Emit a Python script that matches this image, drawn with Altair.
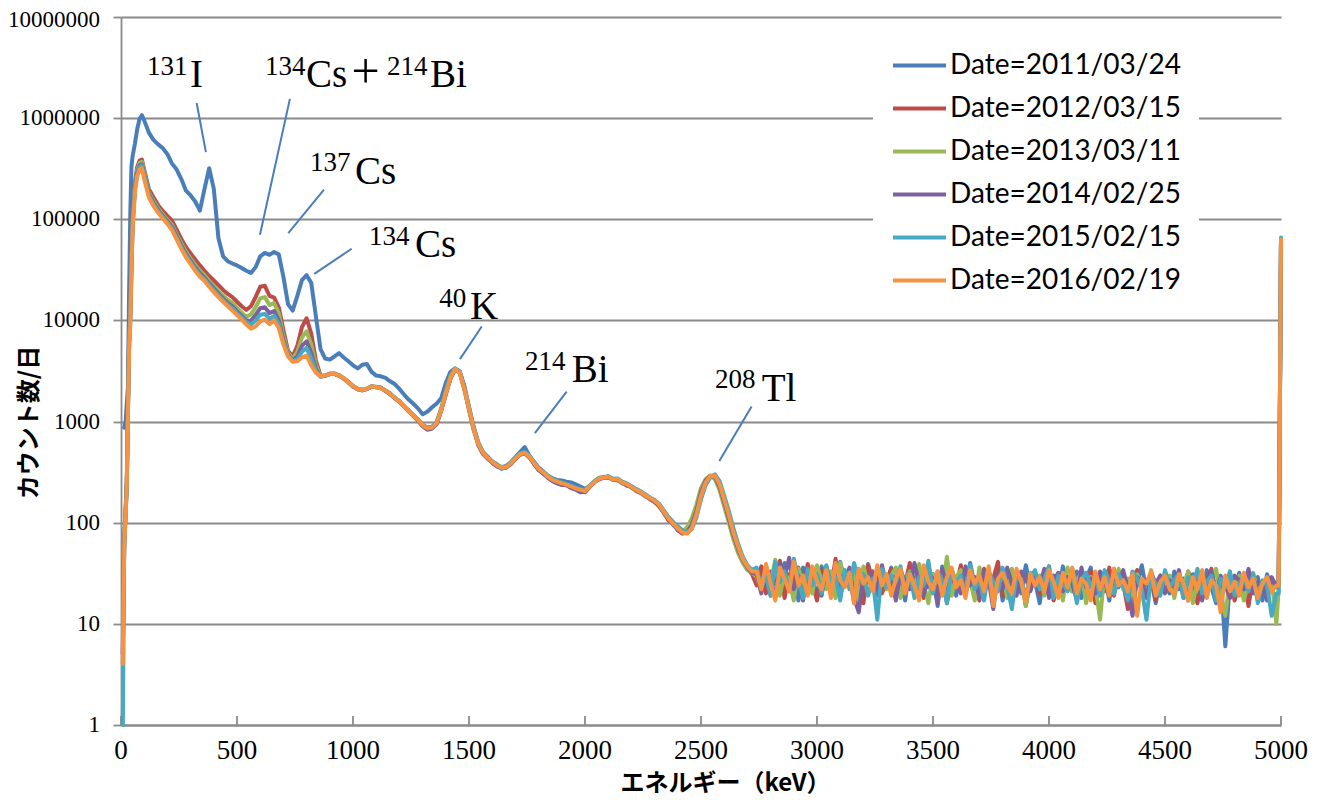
import altair as alt
import pandas as pd

SERIES = ["Date=2011/03/24", "Date=2012/03/15", "Date=2013/03/11",
          "Date=2014/02/25", "Date=2015/02/15", "Date=2016/02/19"]
COLORS = ["#4A7EBB", "#BE4B48", "#98B954", "#7D60A0", "#46AAC5", "#F69240"]

# energy grid (keV)
E_LOW = [8, 10, 14, 20, 25, 30, 35, 40, 45, 50, 60, 70, 80, 90, 100]
E_MID = list(range(120, 2721, 20))
E_NOISE = list(range(2740, 4981, 20))
E_END = [4990, 5000]

# ---- counts per day, 2011/03/24 ----
LOW_2011 = [None, None, 870, 1000, 1500, 2200, 20000, 110000, 330000, 420000, 560000, 780000, 980000, 1070000, 950000]
MID_2011 = [720000, 610000, 550000, 505000, 440000, 355000, 310000, 250000, 192000, 172000,
            150000, 122000, 200000, 320000, 200000, 65000, 43000, 38500, 36500, 35000,
            33000, 31000, 29500, 33500, 43000, 46500, 44500, 47500, 45000, 27000,
            14500, 12500, 17500, 25000, 28000, 23500, 11000, 5200, 4200, 4100,
            4400, 4750, 4300, 3950, 3600, 3350, 3650, 3700, 3100, 2850,
            2800, 2700, 2500, 2350, 2100, 1850, 1650, 1500, 1350, 1180,
            1250, 1380, 1500, 1700, 2400, 3100, 3350, 3150, 2250, 1400,
            880, 620, 500, 450, 405, 375, 355, 365, 395, 445,
            500, 560, 460, 400, 350, 322, 292, 275, 265, 262,
            255, 250, 240, 228, 215, 232, 255, 276, 280, 286,
            270, 270, 252, 242, 228, 214, 202, 188, 176, 166,
            150, 128, 110, 98, 88, 80, 80, 90, 122, 188,
            252, 292, 290, 238, 170, 118, 80, 58, 44, 37,
            33]
NOISE_2011 = [34, 22, 38, 19, 31, 26, 40, 21, 33, 17, 36, 24, 29, 18, 37, 23, 32, 20, 41, 25, 30, 16, 35, 22, 39, 27, 19, 33, 24, 36,
              21, 30, 17, 38, 26, 20, 34, 23, 31, 15, 37, 25, 28, 19, 35, 22, 40, 24, 18, 32, 27, 21, 36, 17, 29, 25, 33, 20, 38, 23,
              26, 16, 34, 22, 30, 19, 37, 24, 21, 33, 18, 28, 36, 20, 26, 31, 17, 35, 23, 29, 19, 32, 25, 38, 21, 27, 16, 30, 24, 20,
              33, 22, 28, 17, 31, 25, 19, 34, 23, 16, 30, 6, 27, 21, 32, 18, 26, 24, 29, 17, 31, 22, 25]
END_2011 = [25, 62000]

# ---- 2012/03/15 ----
LOW_2012 = [5, 18, 70, 140, 260, 1500, 7000, 13000, 42000, 105000, 235000, 330000, 380000, 390000, 310000]
MID_2012 = [200000, 165000, 138000, 121000, 108000, 97000, 79000, 64000, 53000, 46000,
            40000, 35000, 31000, 27500, 24800, 22300, 20000, 18300, 17000, 15300,
            13800, 12700, 13800, 17000, 21500, 22000, 17500, 16800, 13500, 8000,
            5000, 4400, 5600, 8600, 10500, 7400, 4000, 2850, 2830, 2980,
            2950, 2880, 2650, 2470, 2250, 2080, 2070, 2100, 2240, 2180,
            2170, 2000, 1900, 1700, 1600, 1400, 1290, 1140, 1050, 910,
            850, 880, 940, 1280, 1850, 2650, 3300, 3100, 2150, 1320,
            870, 590, 480, 450, 390, 365, 345, 360, 380, 425,
            480, 480, 455, 380, 345, 305, 290, 260, 250, 240,
            242, 222, 215, 205, 200, 225, 255, 268, 285, 278,
            272, 262, 255, 232, 228, 205, 198, 190, 170, 162,
            145, 125, 105, 100, 84, 78, 80, 92, 130, 195,
            258, 288, 285, 235, 165, 112, 75, 55, 42, 35,
            31]
NOISE_2012 = [24, 37, 20, 33, 27, 42, 18, 31, 25, 36, 21, 39, 26, 17, 34, 28, 22, 44, 19, 30, 35, 23, 29, 16, 38, 26, 32, 20, 27, 35,
              19, 33, 25, 40, 22, 29, 18, 36, 27, 21, 34, 16, 30, 24, 38, 20, 31, 26, 17, 35, 23, 28, 41, 19, 26, 33, 22, 30, 15, 27,
              32, 20, 28, 37, 17, 26, 31, 22, 35, 18, 29, 24, 33, 16, 27, 21, 36, 19, 30, 25, 14, 28, 34, 20, 26, 31, 17, 29, 23, 27,
              21, 30, 18, 33, 24, 16, 29, 26, 35, 19, 27, 22, 31, 17, 25, 28, 15, 30, 22, 26, 19, 28, 24]
END_2012 = [24, 60000]

# ---- 2013/03/11 ----
LOW_2013 = [4, 16, 65, 130, 250, 1400, 6500, 11500, 38000, 97000, 215000, 305000, 360000, 370000, 290000]
MID_2013 = [185000, 152000, 128000, 112000, 99000, 88000, 71000, 58000, 48000, 41000,
            35500, 31000, 28000, 24500, 22000, 19500, 17500, 16000, 15000, 13300,
            12000, 10800, 11500, 13500, 16500, 17000, 14200, 14800, 11800, 7000,
            4800, 4200, 4900, 6800, 7800, 5800, 3600, 2820, 2870, 2940,
            3000, 2840, 2700, 2430, 2240, 2110, 2040, 2130, 2200, 2210,
            2140, 2030, 1870, 1730, 1570, 1430, 1260, 1160, 1030, 930,
            870, 860, 980, 1350, 1980, 2800, 3350, 3000, 2050, 1300,
            830, 610, 495, 435, 405, 375, 355, 350, 390, 440,
            480, 485, 440, 385, 335, 310, 280, 262, 248, 240,
            236, 224, 214, 210, 208, 232, 255, 275, 278, 288,
            265, 268, 245, 238, 222, 208, 202, 182, 172, 160,
            148, 125, 112, 95, 86, 82, 90, 110, 150, 220,
            270, 292, 270, 210, 145, 100, 68, 50, 40, 34,
            32]
NOISE_2013 = [29, 21, 36, 25, 43, 19, 32, 27, 17, 35, 24, 30, 20, 38, 26, 22, 33, 18, 40, 28, 23, 31, 16, 37, 25, 29, 20, 34, 22, 30,
              36, 18, 27, 33, 21, 39, 25, 16, 31, 28, 22, 46, 19, 29, 34, 23, 27, 17, 36, 24, 30, 20, 26, 33, 18, 35, 22, 28, 15, 32,
              25, 30, 19, 34, 23, 28, 17, 36, 21, 27, 32, 16, 29, 24, 11, 33, 26, 20, 35, 22, 28, 17, 31, 25, 19, 34, 21, 27, 23, 30,
              18, 29, 24, 33, 16, 27, 31, 20, 25, 35, 19, 12, 28, 22, 30, 17, 26, 32, 21, 24, 18, 27, 10]
END_2013 = [22, 61000]

# ---- 2014/02/25 ----
LOW_2014 = [5, 17, 62, 125, 240, 1300, 6000, 10500, 35000, 90000, 205000, 290000, 340000, 350000, 275000]
MID_2014 = [178000, 145000, 123000, 108000, 95000, 84000, 68000, 55000, 45500, 39000,
            33500, 29300, 26500, 23200, 20700, 18400, 16500, 14900, 13800, 12300,
            11100, 10000, 9900, 11300, 13200, 13500, 11800, 12400, 10000, 6400,
            4600, 4000, 4400, 5600, 6200, 4800, 3300, 2780, 2830, 2960,
            2960, 2830, 2660, 2460, 2210, 2090, 2030, 2100, 2210, 2190,
            2160, 2010, 1860, 1710, 1560, 1410, 1260, 1140, 1020, 900,
            830, 850, 950, 1290, 1880, 2680, 3280, 3080, 2120, 1340,
            840, 590, 480, 430, 395, 360, 345, 350, 380, 425,
            470, 485, 445, 385, 330, 305, 278, 258, 245, 236,
            234, 220, 212, 200, 202, 226, 250, 270, 276, 282,
            266, 264, 248, 236, 224, 210, 196, 184, 174, 160,
            146, 126, 108, 96, 86, 79, 80, 95, 130, 200,
            262, 290, 282, 228, 160, 110, 75, 55, 43, 36,
            32]
NOISE_2014 = [31, 20, 35, 26, 18, 39, 28, 45, 22, 30, 17, 34, 25, 29, 19, 37, 24, 32, 21, 27, 36, 18, 13, 30, 26, 33, 20, 38, 24, 28,
              17, 33, 27, 22, 40, 25, 19, 31, 28, 16, 35, 23, 30, 26, 20, 37, 24, 29, 18, 34, 27, 14, 31, 22, 36, 25, 19, 33, 28, 21,
              30, 24, 35, 18, 27, 32, 21, 29, 25, 17, 36, 23, 28, 20, 33, 26, 19, 31, 24, 34, 22, 12, 29, 26, 18, 32, 25, 30, 20, 27,
              23, 34, 19, 28, 25, 31, 17, 26, 33, 21, 29, 24, 18, 30, 27, 22, 35, 20, 26, 24, 17, 29, 23]
END_2014 = [26, 60000]

# ---- 2015/02/15 ----
LOW_2015 = [1, 4, 60, 120, 235, 1250, 5800, 10000, 33000, 86000, 198000, 280000, 330000, 340000, 268000]
MID_2015 = [172000, 140000, 119000, 105000, 92500, 81000, 65500, 53000, 43800, 37500,
            32300, 28200, 25500, 22400, 19900, 17700, 15900, 14300, 13200, 11800,
            10700, 9600, 9100, 10000, 11400, 11600, 10400, 11100, 9200, 6100,
            4500, 3950, 4150, 4900, 5350, 4200, 3150, 2790, 2860, 2950,
            2970, 2860, 2690, 2440, 2240, 2120, 2060, 2110, 2230, 2200,
            2140, 2040, 1890, 1730, 1590, 1410, 1280, 1160, 1050, 930,
            880, 890, 980, 1320, 1920, 2720, 3320, 3100, 2150, 1380,
            880, 620, 500, 445, 400, 380, 340, 360, 390, 435,
            485, 500, 460, 395, 345, 318, 288, 270, 258, 250,
            240, 232, 222, 215, 210, 230, 256, 278, 282, 287,
            272, 274, 255, 245, 230, 216, 205, 190, 178, 168,
            154, 132, 114, 102, 92, 84, 80, 86, 112, 170,
            235, 280, 300, 258, 185, 130, 88, 62, 46, 38,
            34]
NOISE_2015 = [36, 23, 30, 19, 41, 26, 33, 21, 44, 27, 18, 35, 24, 31, 20, 38, 25, 29, 17, 34, 22, 40, 26, 31, 19, 28, 11, 35, 23, 30,
              26, 37, 21, 32, 18, 29, 24, 42, 20, 33, 27, 16, 35, 25, 30, 19, 38, 22, 28, 17, 33, 26, 21, 36, 24, 14, 31, 27, 19, 29,
              34, 22, 28, 37, 18, 30, 25, 21, 35, 16, 27, 32, 23, 29, 19, 34, 26, 20, 31, 24, 17, 33, 28, 22, 11, 30, 25, 19, 34, 23,
              27, 31, 18, 29, 24, 35, 20, 26, 30, 17, 28, 23, 33, 19, 25, 29, 21, 31, 16, 27, 24, 12, 20]
END_2015 = [20, 66000]

# ---- 2016/02/19 ----
LOW_2016 = [4, 15, 58, 118, 230, 1200, 5000, 9000, 30000, 80000, 185000, 265000, 310000, 320000, 250000]
MID_2016 = [165000, 135000, 116000, 102000, 90000, 78000, 63000, 51000, 42000, 36000,
            31000, 27000, 24500, 21500, 19000, 17000, 15300, 13800, 12500, 11300,
            10200, 9100, 8300, 8700, 9800, 10200, 9200, 10000, 8400, 5800,
            4400, 3900, 3950, 4300, 4500, 3600, 3050, 2800, 2850, 2950,
            2980, 2850, 2680, 2450, 2230, 2100, 2050, 2120, 2220, 2200,
            2150, 2020, 1880, 1720, 1580, 1420, 1270, 1150, 1040, 920,
            860, 870, 960, 1300, 1900, 2700, 3300, 3050, 2100, 1350,
            850, 600, 490, 440, 400, 370, 350, 355, 385, 430,
            475, 490, 450, 390, 340, 315, 285, 265, 255, 245,
            238, 228, 218, 212, 205, 228, 252, 272, 280, 285,
            268, 270, 250, 240, 226, 212, 200, 186, 176, 165,
            150, 128, 110, 98, 88, 80, 78, 88, 120, 185,
            250, 290, 292, 240, 170, 118, 80, 58, 44, 37,
            33]
NOISE_2016 = [33, 22, 39, 25, 17, 36, 28, 21, 41, 24, 30, 19, 37, 26, 22, 34, 18, 40, 27, 23, 32, 16, 35, 25, 29, 21, 38, 24, 31, 19,
              28, 35, 20, 31, 24, 17, 38, 26, 22, 33, 19, 29, 36, 23, 27, 18, 34, 25, 30, 21, 37, 15, 28, 32, 24, 20, 35, 26, 17, 31,
              24, 29, 21, 34, 26, 18, 32, 23, 36, 20, 28, 25, 17, 33, 22, 29, 19, 35, 24, 27, 21, 31, 12, 28, 25, 33, 19, 26, 30, 22,
              20, 31, 25, 17, 29, 22, 34, 18, 27, 24, 13, 30, 21, 26, 19, 32, 23, 28, 18, 25, 29, 21, 24]
END_2016 = [24, 63000]

SEGMENTS = [
    (LOW_2011, MID_2011, NOISE_2011, END_2011),
    (LOW_2012, MID_2012, NOISE_2012, END_2012),
    (LOW_2013, MID_2013, NOISE_2013, END_2013),
    (LOW_2014, MID_2014, NOISE_2014, END_2014),
    (LOW_2015, MID_2015, NOISE_2015, END_2015),
    (LOW_2016, MID_2016, NOISE_2016, END_2016),
]

# ---- annotations ----
SUP_TEXT = ["131", "134", "214", "137", "134", "40", "214", "208"]
SUP_E = [112, 621, 1147, 815, 1069, 1372, 1741, 2560]
SUP_Y = [2.69e6, 2.69e6, 2.69e6, 2.97e5, 5.6e4, 1.37e4, 3.25e3, 2.14e3]
MAIN_TEXT = ["I", "Cs", "Bi", "Cs", "Cs", "K", "Bi", "Tl"]
MAIN_E = [297, 797, 1332, 1009, 1267, 1504, 1943, 2762]
MAIN_Y = [2.05e6, 2.05e6, 2.05e6, 2.24e5, 4.23e4, 1.03e4, 2.45e3, 1.58e3]
PLUS_TEXT = ["+"]
PLUS_E = [994]
PLUS_Y = [2.0e6]
LEAD_E1 = [326, 728, 875, 994, 1555, 1921, 2718]
LEAD_Y1 = [1.41e6, 1.55e6, 1.96e5, 5.11e4, 8.7e3, 1.98e3, 1.41e3]
LEAD_E2 = [366, 599, 721, 833, 1461, 1784, 2579]
LEAD_Y2 = [4.62e5, 7.03e4, 7.31e4, 2.89e4, 4.14e3, 768, 408]

X_TICKS = list(range(0, 5001, 500))
X_LABELS = [str(v) for v in X_TICKS]
Y_TICKS = [1, 10, 100, 1000, 10000, 100000, 1000000, 10000000]
Y_LABELS = ["1", "10", "100", "1000", "10000", "100000", "1000000", "10000000"]

SERIF = "Liberation Serif"
JP = "Noto Sans CJK JP"
GRID = "#8A8A8A"

rows = []
E_ALL = E_LOW + E_MID + E_NOISE + E_END
for name, segs in zip(SERIES, SEGMENTS):
    vals = segs[0] + segs[1] + segs[2] + segs[3]
    for e, v in zip(E_ALL, vals):
        if v is not None:
            rows.append({"series": name, "E": e, "count": v})
df = pd.DataFrame(rows)

xscale = alt.Scale(domain=[0, 5000], nice=False, zero=False)
yscale = alt.Scale(type="log", domain=[1, 10000000], nice=False)

AX_X = alt.Axis(
    values=X_TICKS, ticks=False, tickSize=0, grid=False, labels=False,
    domainColor=GRID, domainWidth=1.8,
    title="エネルギー（keV）", titleFont=JP, titleFontSize=24, titleFontWeight="bold",
    titleColor="black", titleX=604, titleY=58, titleAlign="center", titleBaseline="middle")
AX_Y = alt.Axis(
    values=Y_TICKS, tickSize=8, tickColor=GRID, tickWidth=1.8, labels=False,
    grid=True, gridColor=GRID, gridWidth=1.8, domainColor=GRID, domainWidth=1.8,
    title="カウント数/日", titleFont=JP, titleFontSize=24, titleFontWeight="bold",
    titleColor="black", titleAngle=270, titleX=-92, titleY=405, titleAlign="center",
    titleBaseline="middle")


def xenc(field):
    return alt.X(field, scale=xscale, axis=AX_X, title="エネルギー（keV）")


def yenc(field):
    return alt.Y(field, scale=yscale, axis=AX_Y, title="カウント数/日")


lines = alt.Chart(df).mark_line(strokeWidth=4, strokeJoin="round", strokeCap="round").encode(
    x=xenc("E:Q"),
    y=yenc("count:Q"),
    color=alt.Color("series:N", scale=alt.Scale(domain=SERIES, range=COLORS), legend=alt.Legend(
        title=None, orient="none", legendX=752, legendY=2, symbolType="stroke", symbolSize=2809,
        symbolStrokeWidth=4, labelFont="Lato", labelFontSize=28, labelColor="black", labelOffset=2,
        labelLimit=0, rowPadding=0, padding=18, fillColor="white")),
)

tick_df = pd.DataFrame({"E": X_TICKS, "lo": [1] * len(X_TICKS), "hi": [1.228] * len(X_TICKS)})
xticks = alt.Chart(tick_df).mark_rule(color=GRID, strokeWidth=1.8).encode(
    x=xenc("E:Q"),
    y=yenc("lo:Q"),
    y2="hi:Q",
)

# tick labels (serif), placed through the scales
xlab_df = pd.DataFrame({"E": X_TICKS, "t": X_LABELS})
xlabels = alt.Chart(xlab_df).mark_text(font=SERIF, fontSize=27, align="center", baseline="middle",
                                       color="black").encode(
    x=xenc("E:Q"),
    y=alt.value(734),
    text="t:N",
)
ylab_df = pd.DataFrame({"v": Y_TICKS[:-1], "t": Y_LABELS[:-1]})
ylabels = alt.Chart(ylab_df).mark_text(font=SERIF, fontSize=23, align="right", baseline="middle",
                                       color="black").encode(
    x=alt.value(-21),
    y=yenc("v:Q"),
    text="t:N",
)
ytop_df = pd.DataFrame({"v": Y_TICKS[-1:], "t": Y_LABELS[-1:]})
ytop = alt.Chart(ytop_df).mark_text(font=SERIF, fontSize=23, align="right", baseline="middle",
                                    dy=3, color="black").encode(
    x=alt.value(-21),
    y=yenc("v:Q"),
    text="t:N",
)

lead_df = pd.DataFrame({"e1": LEAD_E1, "y1": LEAD_Y1, "e2": LEAD_E2, "y2": LEAD_Y2})
leaders = alt.Chart(lead_df).mark_rule(color="#4A7EBB", strokeWidth=2).encode(
    x=xenc("e1:Q"),
    y=yenc("y1:Q"),
    x2="e2:Q",
    y2="y2:Q",
)


def text_layer(texts, es, ys, size):
    d = pd.DataFrame({"t": texts, "E": es, "y": ys})
    return alt.Chart(d).mark_text(font=SERIF, fontSize=size, align="left", baseline="alphabetic",
                                  color="black").encode(
        x=xenc("E:Q"),
        y=yenc("y:Q"),
        text="t:N",
    )


sup = text_layer(SUP_TEXT, SUP_E, SUP_Y, 27)
main = text_layer(MAIN_TEXT, MAIN_E, MAIN_Y, 39)
plus = text_layer(PLUS_TEXT, PLUS_E, PLUS_Y, 50)

chart = alt.layer(lines, xticks, xlabels, ylabels, ytop, leaders, sup, main, plus).properties(
    width=1160, height=708,
    autosize=alt.AutoSizeParams(type="none"),
    padding={"left": 113, "top": 9, "right": 30, "bottom": 72},
    background="white",
).configure_view(strokeWidth=0)

chart.save("out.html", embed_options={"renderer": "svg", "actions": False})
